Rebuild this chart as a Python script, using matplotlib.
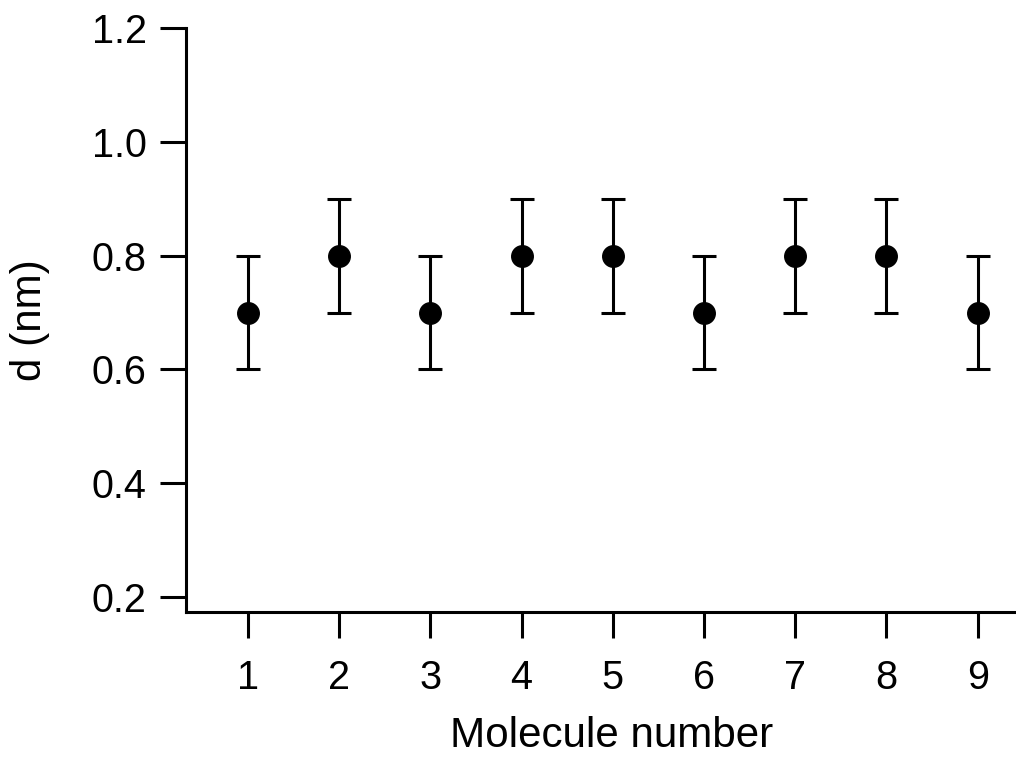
import matplotlib.pyplot as plt
import numpy as np

plt.rcParams['font.family'] = ['Liberation Sans', 'DejaVu Sans']

molecule = [1, 2, 3, 4, 5, 6, 7, 8, 9]
d_nm = [0.7, 0.8, 0.7, 0.8, 0.8, 0.7, 0.8, 0.8, 0.7]
d_err = [0.1, 0.1, 0.1, 0.1, 0.1, 0.1, 0.1, 0.1, 0.1]
yticks = [0.2, 0.4, 0.6, 0.8, 1.0, 1.2]

fig = plt.figure(figsize=(10.16, 7.57), dpi=100)
ax = fig.add_axes([0.183, 0.1915, 0.817, 0.7715])

ax.errorbar(molecule, d_nm, yerr=d_err, fmt='o', color='black',
            markersize=15.5, elinewidth=2.2, capsize=8.3, capthick=2.2)

ax.set_xlim(0.32, 9.42)
ax.set_ylim(0.1736, 1.2)
ax.set_xticks(molecule)
ax.set_yticks(yticks)
ax.set_yticklabels([f"{v:.1f}" for v in yticks])

for side in ['top', 'right']:
    ax.spines[side].set_visible(False)
for side in ['left', 'bottom']:
    ax.spines[side].set_linewidth(2.2)

ax.tick_params(direction='out', length=18.7, width=2.2, labelsize=28.5)
ax.tick_params(axis='x', pad=15)
ax.tick_params(axis='y', pad=9.5)

ax.set_xlabel("Molecule number", fontsize=30.3, labelpad=14)
ax.xaxis.label.set_x(0.513)   # label sits a bit right of centre
ax.set_ylabel("d (nm)", fontsize=30.3, labelpad=30)

fig.savefig("out.png", dpi=100)
